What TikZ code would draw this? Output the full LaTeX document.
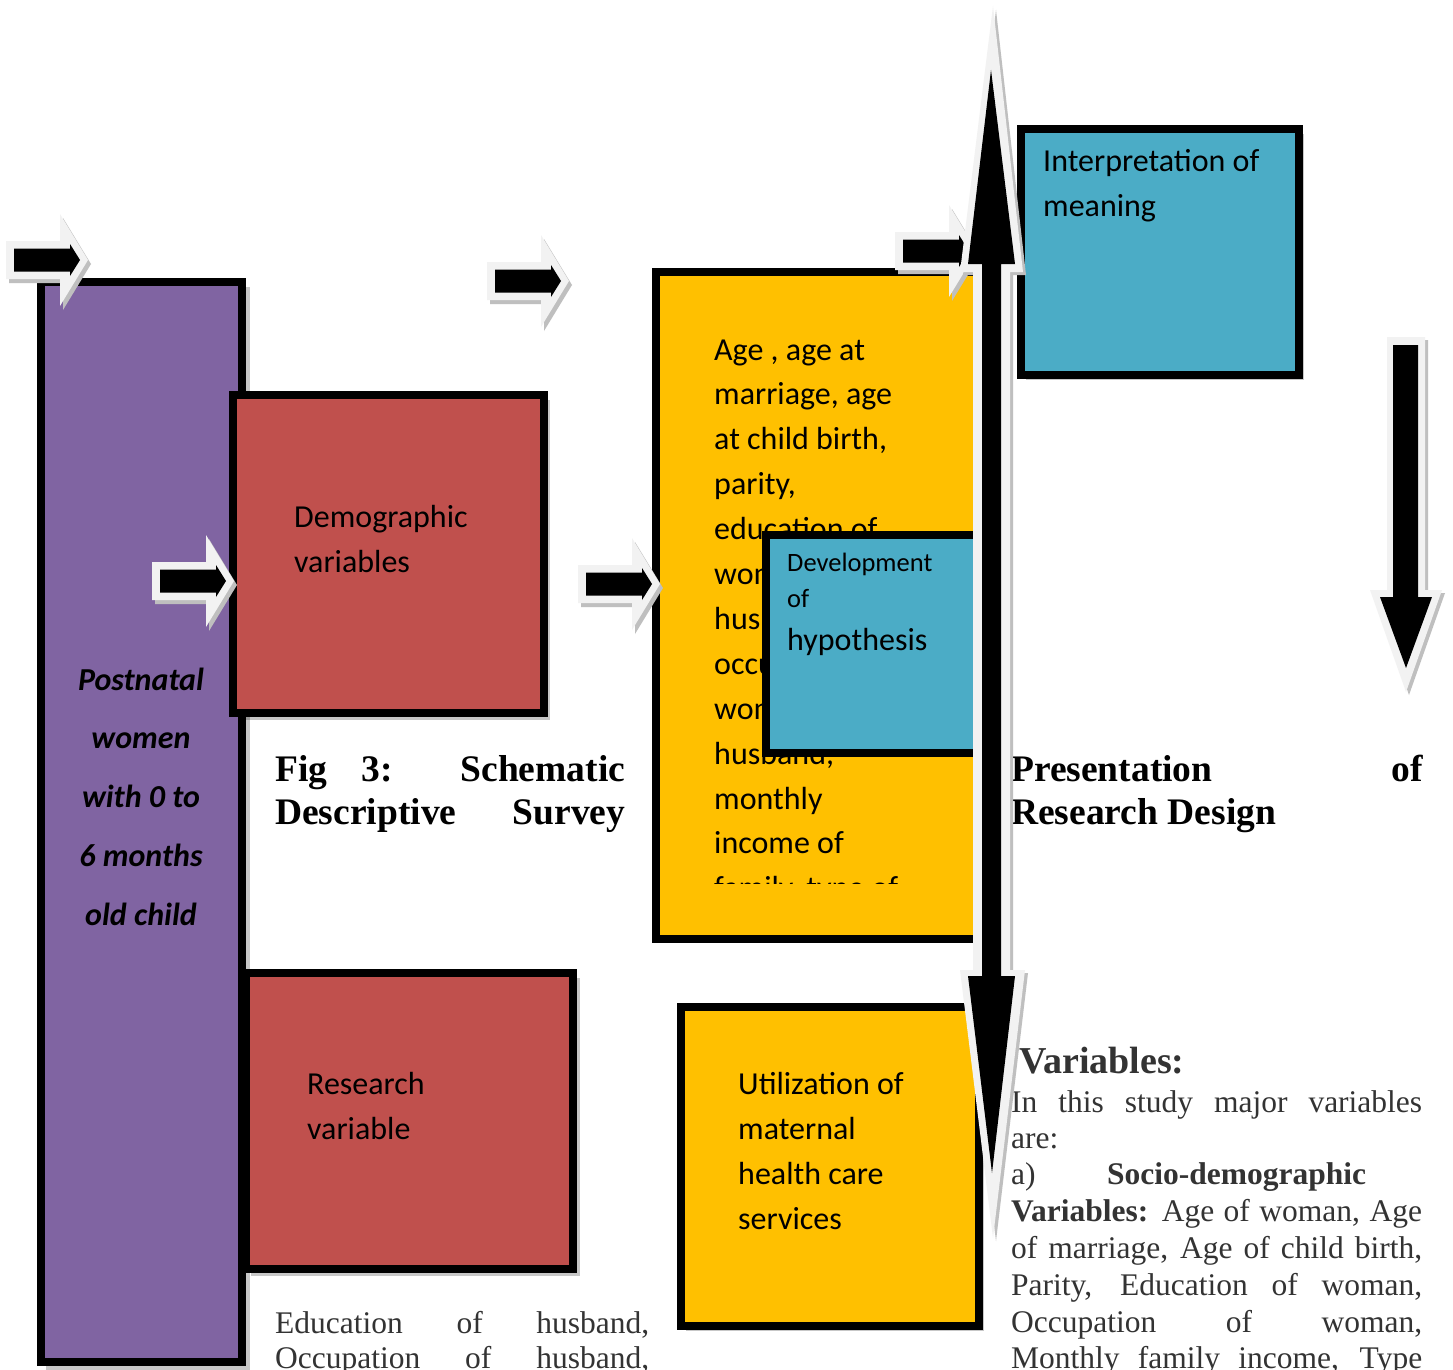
\documentclass[tikz,border=0pt]{standalone}
\usepackage{fontspec}
\setmainfont{Liberation Serif}
\newfontfamily\calfont{Carlito}
\definecolor{cpurple}{HTML}{8064A2}
\definecolor{cred}{HTML}{C0504D}
\definecolor{cyellow}{HTML}{FFC000}
\definecolor{cblue}{HTML}{4BACC6}
\definecolor{coutline}{HTML}{F2F2F2}
\definecolor{cshadow}{HTML}{BFBFBF}
\definecolor{ctext}{HTML}{333333}
\tikzset{
  boxshape/.style={draw=black, line width=8pt, inner sep=0pt, outer sep=0pt, anchor=north west},
  boxshadow/.style={fill=black, opacity=0.22},
  btext/.style={font=\calfont\fontsize{32}{38}\selectfont, inner sep=0pt, anchor=base west},
  ptext/.style={font=\fontsize{31.5}{36}\selectfont, text=ctext, inner sep=0pt, anchor=base west},
  captext/.style={font=\bfseries\fontsize{37.5}{44}\selectfont, inner sep=0pt, anchor=base west},
  arrowout/.style={fill=coutline, draw=none},
  arrowin/.style={fill=black, draw=none},
  arrowshadow/.style={fill=cshadow, draw=none},
}
\newcommand{\rightblock}[2]{%
  \begin{scope}[shift={(#1,#2)}]
    \fill[arrowshadow] (3,-15) -- (57,-15) -- (57,-42) -- (85,4) -- (57,50) -- (57,23) -- (3,23) -- cycle;
    \fill[arrowout] (0,-19) -- (54,-19) -- (54,-46) -- (82,0) -- (54,46) -- (54,19) -- (0,19) -- cycle;
    \fill[arrowin] (8,-11.5) -- (64,-11.5) -- (64,-16) -- (74,0) -- (64,16) -- (64,11.5) -- (8,11.5) -- cycle;
  \end{scope}}
\begin{document}
\begin{tikzpicture}[x=1pt,y=-1pt]
\useasboundingbox (0,0) rectangle (1453,1370);
\clip (0,0) rectangle (1453,1370);
\fill[white] (0,0) rectangle (1453,1370);

% ---------- purple box ----------
\fill[boxshadow] (46,287) rectangle (250,1370);
\node[boxshape, fill=cpurple, minimum width=201pt, minimum height=1080pt] (post) at (41,282) {};
\begin{scope}[every node/.style={font=\calfont\bfseries\itshape\fontsize{32}{38}\selectfont, inner sep=0pt, anchor=base}]
\node (p1) at (141,690) {Postnatal};
\node (p2) at (141,748) {women};
\node (p3) at (141,807) {with 0 to};
\node (p4) at (141,866) {6 months};
\node (p5) at (141,925) {old child};
\end{scope}

% ---------- red boxes ----------
\fill[boxshadow] (238,400) rectangle (550,720);
\node[boxshape, fill=cred, minimum width=311pt, minimum height=318pt] (demo) at (233,395) {};
\node[btext] (demo1) at (294,527) {Demographic};
\node[btext] (demo2) at (294,572) {variables};

\fill[boxshadow] (251,978) rectangle (580,1276);
\node[boxshape, fill=cred, minimum width=327pt, minimum height=296pt] (res) at (246,973) {};
\node[btext] (res1) at (307,1094) {Research};
\node[btext] (res2) at (307,1139) {variable};

% ---------- big yellow box ----------
\node[boxshape, fill=cyellow, minimum width=330pt, minimum height=667pt] (age) at (656,272) {};
\begin{scope}
\clip (650,280) rectangle (990,883);
\foreach \t [count=\i from 0] in {{Age , age at},{marriage, age},{at child birth,},{parity,},{education of},{women,},{husband,},{occupation of},{women,},{husband,},{monthly},{income of},{family, type of}}
  \node[btext] (age\i) at (714,{360+44.9*\i}) {\t};
\end{scope}

% ---------- development box ----------
\node[boxshape, fill=cblue, minimum width=225pt, minimum height=218pt] (dev) at (766,535) {};
\node[btext, font=\calfont\fontsize{26.5}{30}\selectfont] (dev1) at (787,571) {Development};
\node[btext, font=\calfont\fontsize{26.5}{30}\selectfont] (dev2) at (787,607) {of};
\node[btext] (dev3) at (787,650) {hypothesis};

% ---------- utilization box ----------
\fill[boxshadow] (686,1012) rectangle (984,1331);
\node[boxshape, fill=cyellow, minimum width=298pt, minimum height=319pt] (util) at (681,1007) {};
\node[btext] (util1) at (738,1094) {Utilization of};
\node[btext] (util2) at (738,1139) {maternal};
\node[btext] (util3) at (738,1184) {health care};
\node[btext] (util4) at (738,1229) {services};

% ---------- interpretation box ----------
\fill[boxshadow] (1026,134) rectangle (1304,380);
\node[boxshape, fill=cblue, minimum width=278pt, minimum height=246pt] (interp) at (1021,129) {};
\node[btext] (int1) at (1043,171) {Interpretation of};
\node[btext] (int2) at (1043,216) {meaning};

% ---------- captions ----------
\node[captext] (cap1) at (275,781) {\makebox[350pt][l]{Fig\hspace{34pt}3:\hfill Schematic}};
\node[captext] (cap2) at (275,824) {\makebox[350pt][s]{Descriptive Survey}};
\node[captext] (cap3) at (1011,781) {\makebox[412pt][s]{Presentation of}};
\node[captext] (cap4) at (1011,824) {Research Design};

% ---------- paragraph right ----------
\node[ptext, font=\bfseries\fontsize{38}{44}\selectfont] (varh) at (1019,1073) {Variables:};
\node[ptext] (v1) at (1011,1112) {\makebox[411pt][s]{In this study major variables}};
\node[ptext] (v2) at (1011,1148) {are:};
\node[ptext] (v3a) at (1011,1184) {a)};
\node[ptext] (v3b) at (1107,1184) {\textbf{Socio-demographic}};
\node[ptext] (v4) at (1011,1221) {\makebox[411pt][s]{\textbf{Variables:} Age of woman, Age}};
\node[ptext] (v5) at (1011,1258) {\makebox[411pt][s]{of marriage, Age of child birth,}};
\node[ptext] (v6) at (1011,1295) {\makebox[411pt][s]{Parity, Education of woman,}};
\node[ptext] (v7) at (1011,1332) {\makebox[411pt][s]{Occupation of woman,}};
\node[ptext] (v8) at (1011,1368) {\makebox[411pt][s]{Monthly family income, Type}};

% ---------- paragraph bottom left ----------
\node[ptext] (e1) at (275,1333) {\makebox[374pt][s]{Education of husband,}};
\node[ptext] (e2) at (275,1368) {\makebox[374pt][s]{Occupation of husband,}};

% ---------- block arrows ----------
\rightblock{6}{260}
\rightblock{487}{281}
\rightblock{152}{581}
\rightblock{578}{584}
\rightblock{895}{251}

% vertical double arrow
\fill[arrowshadow] (996,10) -- (1026,275) -- (1013,275) -- (1013,973) -- (1028,973) -- (996,1241) -- (963,973) -- (976,973) -- (976,275) -- (963,275) -- cycle;
\fill[arrowout] (993,6) -- (1023,272) -- (1010,272) -- (1010,970) -- (1025,970) -- (993,1238) -- (960,970) -- (973,970) -- (973,272) -- (960,272) -- cycle;
\fill[arrowin] (991,70) -- (1015,264) -- (1001,264) -- (1001,976) -- (1015,976) -- (992,1173) -- (968,976) -- (982,976) -- (982,264) -- (968,264) -- cycle;

% right down arrow
\fill[arrowshadow] (1390,340) -- (1428,340) -- (1428,593) -- (1445,593) -- (1409,695) -- (1373,593) -- (1390,593) -- cycle;
\fill[arrowout] (1387,337) -- (1425,337) -- (1425,590) -- (1442,590) -- (1406,692) -- (1370,590) -- (1387,590) -- cycle;
\fill[arrowin] (1393,345) -- (1418,345) -- (1418,597) -- (1432,597) -- (1406,668) -- (1380,597) -- (1393,597) -- cycle;
\end{tikzpicture}
\end{document}
